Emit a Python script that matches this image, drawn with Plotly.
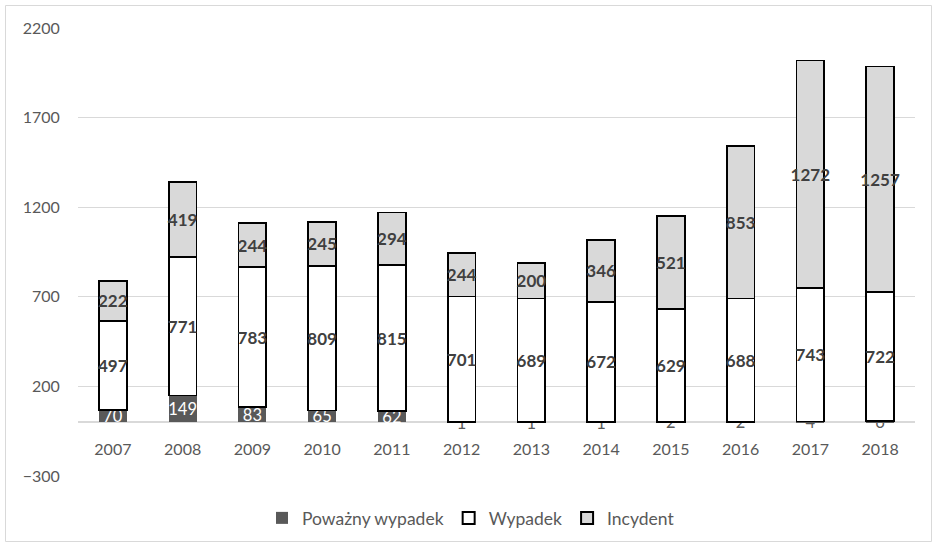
import plotly.graph_objects as go

years = ["2007", "2008", "2009", "2010", "2011", "2012", "2013", "2014", "2015", "2016", "2017", "2018"]
powazny = [70, 149, 83, 65, 62, 1, 1, 1, 2, 2, 4, 6]
wypadek = [497, 771, 783, 809, 815, 701, 689, 672, 629, 688, 743, 722]
incydent = [222, 419, 244, 245, 294, 244, 200, 346, 521, 853, 1272, 1257]
y_ticks = [-300, 200, 700, 1200, 1700, 2200]

FONT = "Lato"
W, H = 934, 543
L, R, T, B = 78, 19, 28, 67
pw, ph = W - L - R, H - T - B

def px(x):
    return (x - L) / pw

def py(y):
    return (H - B - y) / ph

pow_colors = ["white" if v > 20 else "#595959" for v in powazny]

fig = go.Figure()
fig.add_trace(go.Bar(
    name="Poważny wypadek", x=years, y=powazny,
    marker=dict(color="#595959", line=dict(width=0)),
    text=[str(v) for v in powazny], textposition="inside", insidetextanchor="middle",
    textangle=0, constraintext="none",
    textfont=dict(family=FONT, size=16.5, color=pow_colors),
))
fig.add_trace(go.Bar(
    name="Wypadek", x=years, y=wypadek,
    marker=dict(color="white", line=dict(color="black", width=1.8)),
    text=[str(v) for v in wypadek], textposition="inside", insidetextanchor="middle",
    textangle=0, constraintext="none",
    textfont=dict(family=FONT, size=17, color="#404040", weight="bold"),
))
fig.add_trace(go.Bar(
    name="Incydent", x=years, y=incydent,
    marker=dict(color="#d9d9d9", line=dict(color="black", width=1.8)),
    text=[str(v) for v in incydent], textposition="inside", insidetextanchor="middle",
    textangle=0, constraintext="none",
    textfont=dict(family=FONT, size=17, color="#404040", weight="bold"),
))

fig.update_layout(
    width=W, height=H, barmode="stack", bargap=0.6,
    margin=dict(l=L, r=R, t=T, b=B, autoexpand=False),
    paper_bgcolor="white", plot_bgcolor="white",
    font=dict(family=FONT, size=16, color="#595959"),
    showlegend=True,
    legend=dict(orientation="h", x=px(471), xanchor="center", y=py(518), yanchor="middle",
                font=dict(family=FONT, size=17.5, color="#595959"), traceorder="normal",
                itemwidth=30, itemsizing="constant"),
    xaxis=dict(anchor="free", position=300 / 2500, showgrid=False, showline=False,
               ticks="outside", ticklen=13, tickcolor="rgba(0,0,0,0)",
               tickfont=dict(family=FONT, size=16, color="#595959"), zeroline=False),
    yaxis=dict(range=[-300, 2200], tickvals=y_ticks, showgrid=True, gridcolor="#d9d9d9", gridwidth=1,
               zeroline=True, zerolinecolor="#d9d9d9", zerolinewidth=1.5, showline=False,
               ticks="outside", ticklen=14, tickcolor="rgba(0,0,0,0)",
               tickfont=dict(family=FONT, size=16, color="#595959")),
    shapes=[dict(type="rect", xref="paper", yref="paper",
                 x0=px(5.5), x1=px(931.5), y0=py(541.5), y1=py(5.5),
                 line=dict(color="#d9d9d9", width=1), fillcolor="rgba(0,0,0,0)", layer="below")],
)

fig.write_html("out.html")
